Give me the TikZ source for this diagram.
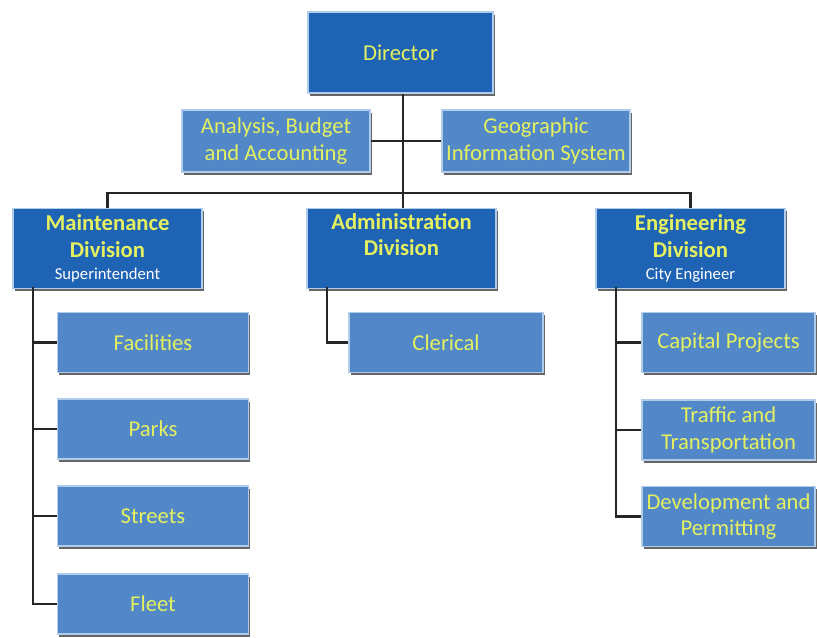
\documentclass[tikz,border=0pt]{standalone}
\usepackage{fontspec}
\setmainfont{Carlito}
\usetikzlibrary{shadows}
\definecolor{darkbox}{RGB}{31,99,180}
\definecolor{lightbox}{RGB}{82,136,200}
\definecolor{boxtext}{RGB}{228,240,96}
\definecolor{boxrim}{RGB}{175,205,235}
\tikzset{
  unitbox/.style={draw=boxrim, line width=1pt, text=boxtext, align=center,
    inner sep=0pt, font=\fontsize{17}{20}\selectfont,
    drop shadow={shadow xshift=1.2pt, shadow yshift=-2.2pt, fill=black!75, opacity=0.8}},
  headbox/.style={unitbox, fill=darkbox},
  divbox/.style={unitbox, fill=darkbox, minimum width=141.75pt, minimum height=60pt},
  staffbox/.style={unitbox, fill=lightbox, minimum width=141pt, minimum height=46.5pt},
  subbox/.style={unitbox, fill=lightbox, minimum height=45pt},
  link/.style={draw=black!85, line width=1.8pt}
}
\newcommand{\sub}[1]{{\fontsize{12.5}{14}\selectfont\color{white}#1}}
\begin{document}
\begin{tikzpicture}[x=0.75pt, y=-0.75pt]
  \useasboundingbox[fill=white] (0,0) rectangle (817,638);
  % top level
  \node[headbox, minimum width=138.75pt, minimum height=60.75pt] (director) at (400.5,52.5) {Director};
  \node[staffbox] (analysis) at (276,141) {Analysis, Budget\\and Accounting};
  \node[staffbox] (geo) at (536,141) {Geographic\\Information System};
  % divisions
  \node[divbox] (maint) at (107.5,248.5) {\textbf{Maintenance}\\\textbf{Division}\\[-3pt]\sub{Superintendent}};
  \node[divbox] (admin) at (401.5,248.5) {\textbf{Administration}\\\textbf{Division}\\[-3pt]\sub{\strut}};
  \node[divbox] (eng) at (690.5,248.5) {\textbf{Engineering}\\\textbf{Division}\\[-3pt]\sub{City Engineer}};
  % maintenance units
  \node[subbox, minimum width=143.25pt] (facilities) at (153,342.5) {Facilities};
  \node[subbox, minimum width=143.25pt] (parks) at (153,429) {Parks};
  \node[subbox, minimum width=143.25pt] (streets) at (153,516) {Streets};
  \node[subbox, minimum width=143.25pt] (fleet) at (153,604) {Fleet};
  % administration units
  \node[subbox, minimum width=145.5pt] (clerical) at (446,342.5) {Clerical};
  % engineering units
  \node[subbox, minimum width=129.75pt] (capital) at (728.5,342.5) {Capital Projects};
  \node[subbox, minimum width=129.75pt] (traffic) at (728.5,430) {Traffic and\\Transportation};
  \node[subbox, minimum width=129.75pt] (develop) at (728.5,516.5) {Development and\\Permitting};
  % connectors
  \coordinate (bus) at (403,193);
  \coordinate (mtrunk) at (33,287);
  \coordinate (atrunk) at (327,287);
  \coordinate (etrunk) at (616,287);
  \draw[link] (director.south -| bus) -- (bus);
  \draw[link] (analysis.east) -- (geo.west);
  \draw[link] (maint.north) |- (bus) -| (eng.north);
  \draw[link] (bus) -- (admin.north -| bus);
  \draw[link] (mtrunk) |- (facilities.west);
  \draw[link] (mtrunk) |- (parks.west);
  \draw[link] (mtrunk) |- (streets.west);
  \draw[link] (mtrunk) |- (fleet.west);
  \draw[link] (atrunk) |- (clerical.west);
  \draw[link] (etrunk) |- (capital.west);
  \draw[link] (etrunk) |- (traffic.west);
  \draw[link] (etrunk) |- (develop.west);
\end{tikzpicture}
\end{document}
